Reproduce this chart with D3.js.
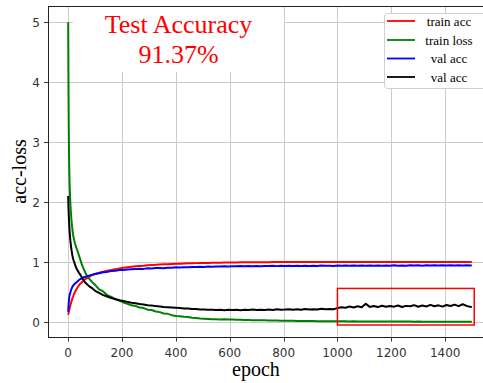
<!DOCTYPE html>
<html>
<head>
<meta charset="utf-8">
<script src="https://cdn.jsdelivr.net/npm/d3@7/dist/d3.min.js"></script>
<style>
  html, body { margin: 0; padding: 0; background: #fff; }
  svg { display: block; }
</style>
</head>
<body>
<svg id="chart" width="483" height="383"></svg>
<script>
// ---------------- DATA ----------------
const epochs = [
  0,1,2,3,4,5,6,7,8,10, 12,14,16,18,20,23,26,30,35,40, 45,50,55,60,65,70,80,90,
  100,115,130,145,160,175,190,205,220,235,
  250,265,280,295,310,325,340,355,370,385,
  400,415,430,445,460,475,490,505,520,535,
  550,565,580,595,610,625,640,655,670,685,
  700,715,730,745,760,775,790,805,820,835,
  850,865,880,895,910,925,940,955,970,985,
  1000,1015,1030,1045,1060,1075,1090,1105,1120,1135,
  1150,1165,1180,1195,1210,1225,1240,1255,1270,1285,
  1300,1315,1330,1345,1360,1375,1390,1405,1420,1435,
  1450,1465,1480,1495,1499
];

const trainAcc = [
  0.12,0.14,0.16,0.18,0.2,0.22,0.24,0.26,0.28,0.31, 0.34,0.37,0.4,0.42,0.45,0.48,0.51,0.54,0.58,0.61, 0.64,0.66,0.68,0.70,0.72,0.73,0.76,0.785,
  0.80,0.822,0.838,0.857,0.866,0.882,0.893,0.906,0.913,0.921,
  0.929,0.936,0.94,0.946,0.951,0.954,0.959,0.962,0.965,0.968,
  0.971,0.973,0.976,0.978,0.979,0.982,0.983,0.985,0.986,0.988,
  0.989,0.99,0.992,0.992,0.994,0.994,0.995,0.996,0.996,0.997,
  0.997,0.998,0.998,0.998,0.999,0.999,0.999,1.0,1.0,1.0,
  1.0,0.999,1.001,1.0,1.0,0.999,1.001,1.0,1.0,1.001,
  0.999,1.0,1.001,1.0,0.999,1.0,1.001,1.0,1.0,0.999,
  1.001,1.0,1.0,0.999,1.001,1.0,1.0,1.001,0.999,1.0,
  1.0,1.001,0.999,1.0,1.0,1.001,1.0,0.999,1.0,1.001,
  1.0,0.999,1.0,1.001,1.0
];

const trainLoss = [
  5.0,4.0,3.3,2.85,2.55,2.35,2.2,2.08,1.98,1.83, 1.71,1.61,1.53,1.46,1.41,1.35,1.3,1.24,1.18,1.11, 1.04,0.97,0.91,0.86,0.81,0.77,0.71,0.66,
  0.62,0.545,0.51,0.448,0.42,0.378,0.356,0.326,0.305,0.278,
  0.268,0.242,0.232,0.206,0.2,0.176,0.165,0.142,0.136,0.114,
  0.102,0.097,0.086,0.082,0.072,0.065,0.058,0.054,0.051,0.047,
  0.046,0.043,0.044,0.04,0.041,0.037,0.036,0.034,0.033,0.031,
  0.03,0.028,0.028,0.026,0.025,0.024,0.023,0.021,0.021,0.019,
  0.018,0.018,0.016,0.016,0.015,0.014,0.014,0.013,0.013,0.012,
  0.012,0.011,0.011,0.01,0.011,0.01,0.009,0.01,0.009,0.009,
  0.008,0.009,0.008,0.008,0.007,0.008,0.007,0.007,0.007,0.006,
  0.007,0.006,0.006,0.006,0.005,0.006,0.005,0.005,0.005,0.005,
  0.005,0.004,0.005,0.004,0.005
];

const valAcc = [
  0.17,0.25,0.32,0.37,0.41,0.44,0.46,0.475,0.49,0.52, 0.55,0.57,0.59,0.605,0.615,0.63,0.645,0.66,0.68,0.70, 0.715,0.725,0.74,0.75,0.755,0.765,0.775,0.79,
  0.80,0.812,0.83,0.836,0.85,0.853,0.866,0.868,0.874,0.879,
  0.882,0.889,0.886,0.895,0.893,0.899,0.902,0.898,0.906,0.905,
  0.912,0.908,0.915,0.913,0.918,0.916,0.922,0.919,0.925,0.921,
  0.927,0.924,0.929,0.926,0.931,0.928,0.932,0.929,0.934,0.93,
  0.935,0.931,0.936,0.933,0.937,0.932,0.938,0.934,0.939,0.935,
  0.938,0.934,0.94,0.936,0.939,0.935,0.941,0.937,0.94,0.936,
  0.942,0.937,0.941,0.938,0.943,0.937,0.942,0.939,0.944,0.938,
  0.943,0.939,0.944,0.94,0.945,0.939,0.944,0.94,0.946,0.941,
  0.945,0.94,0.946,0.942,0.947,0.941,0.946,0.942,0.948,0.942,
  0.947,0.943,0.948,0.944,0.946
];

const valLoss = [
  2.1,1.92,1.8,1.7,1.61,1.53,1.47,1.41,1.36,1.28, 1.21,1.15,1.1,1.06,1.03,0.99,0.95,0.9,0.86,0.82, 0.79,0.75,0.71,0.68,0.65,0.63,0.59,0.56,
  0.52,0.485,0.448,0.425,0.4,0.383,0.362,0.349,0.336,0.322,
  0.313,0.301,0.292,0.281,0.274,0.265,0.258,0.252,0.248,0.242,
  0.237,0.233,0.226,0.224,0.218,0.216,0.209,0.208,0.204,0.206,
  0.199,0.204,0.197,0.203,0.199,0.205,0.198,0.203,0.2,0.207,
  0.199,0.206,0.202,0.209,0.2,0.211,0.203,0.207,0.214,0.204,
  0.212,0.205,0.218,0.209,0.214,0.207,0.22,0.211,0.218,0.214,
  0.232,0.245,0.238,0.258,0.241,0.262,0.247,0.305,0.252,0.266,
  0.249,0.271,0.253,0.268,0.256,0.275,0.251,0.269,0.262,0.281,
  0.254,0.274,0.259,0.285,0.262,0.278,0.257,0.283,0.266,0.29,
  0.264,0.296,0.268,0.252,0.249
];

const seriesNames = ["train acc", "train loss", "val acc", "val acc"];
const seriesColors = ["#ff0000", "#008000", "#0000ff", "#000000"];
const seriesValues = [trainAcc, trainLoss, valAcc, valLoss];

const xTicks = [0, 200, 400, 600, 800, 1000, 1200, 1400];
const yTicks = [0, 1, 2, 3, 4, 5];
const xDomain = [-75, 1574];
const yDomain = [-0.25, 5.27];

const titleLines = ["Test Accuracy", "91.37%"];
const xLabel = "epoch";
const yLabel = "acc-loss";
// highlighted region [epochStart, epochEnd, valueLow, valueHigh]
const highlightBox = [1000, 1508, -0.05, 0.56];

// ---------------- DRAWING ----------------
const svg = d3.select("#chart");
const L = 48, R = 492, T = 6, B = 337;

const x = d3.scaleLinear().domain(xDomain).range([L, R]);
const y = d3.scaleLinear().domain(yDomain).range([B, T]);
const px = v => Math.round(v) + 0.5;

const gridColor = "#cbcbcb";
const g = svg.append("g");

// grid
g.selectAll(".gx").data(xTicks).enter().append("line")
  .attr("x1", d => px(x(d))).attr("x2", d => px(x(d)))
  .attr("y1", T).attr("y2", B)
  .attr("stroke", gridColor).attr("stroke-width", 1);
g.selectAll(".gy").data(yTicks).enter().append("line")
  .attr("x1", L).attr("x2", R)
  .attr("y1", d => px(y(d))).attr("y2", d => px(y(d)))
  .attr("stroke", gridColor).attr("stroke-width", 1);

// title background box (covers grid)
g.append("rect").attr("x", 73).attr("y", T + 1).attr("width", 211).attr("height", 65)
  .attr("fill", "#fff");

// lines
const line = d3.line().x((d, i) => x(epochs[i])).y(d => y(d));
seriesValues.forEach((vals, k) => {
  g.append("path").datum(vals)
    .attr("d", line)
    .attr("fill", "none")
    .attr("stroke", seriesColors[k])
    .attr("stroke-width", 2)
    .attr("stroke-linejoin", "round");
});

// highlight rectangle
g.append("rect")
  .attr("x", x(highlightBox[0])).attr("y", y(highlightBox[3]))
  .attr("width", x(highlightBox[1]) - x(highlightBox[0]))
  .attr("height", y(highlightBox[2]) - y(highlightBox[3]))
  .attr("fill", "none").attr("stroke", "#ff0000").attr("stroke-width", 1.5);

// spines
const spine = "#222";
g.append("line").attr("x1", L + 0.5).attr("x2", L + 0.5).attr("y1", T).attr("y2", B + 0.5).attr("stroke", spine);
g.append("line").attr("x1", L).attr("x2", R).attr("y1", B + 0.5).attr("y2", B + 0.5).attr("stroke", spine);
g.append("line").attr("x1", L).attr("x2", R).attr("y1", T + 0.5).attr("y2", T + 0.5).attr("stroke", spine);

// ticks + labels
const tickFont = "DejaVu Sans, sans-serif";
g.selectAll(".tx").data(xTicks).enter().append("line")
  .attr("x1", d => px(x(d))).attr("x2", d => px(x(d)))
  .attr("y1", B).attr("y2", B + 4.5).attr("stroke", "#333");
g.selectAll(".tlx").data(xTicks).enter().append("text")
  .attr("x", d => x(d)).attr("y", 357)
  .attr("text-anchor", "middle")
  .attr("font-family", tickFont).attr("font-size", 12).attr("fill", "#333")
  .text(d => d);
g.selectAll(".ty").data(yTicks).enter().append("line")
  .attr("x1", L - 4).attr("x2", L)
  .attr("y1", d => px(y(d))).attr("y2", d => px(y(d))).attr("stroke", "#333");
g.selectAll(".tly").data(yTicks).enter().append("text")
  .attr("x", 40).attr("y", d => y(d) + 4.5)
  .attr("text-anchor", "end")
  .attr("font-family", tickFont).attr("font-size", 12).attr("fill", "#333")
  .text(d => d);

// axis labels
const serif = "Liberation Serif, Times New Roman, serif";
g.append("text").attr("x", 256).attr("y", 376)
  .attr("text-anchor", "middle").attr("font-family", serif).attr("font-size", 20)
  .text(xLabel);
g.append("text").attr("transform", "translate(26,171.5) rotate(-90)")
  .attr("text-anchor", "middle").attr("font-family", serif).attr("font-size", 20)
  .text(yLabel);

// title
titleLines.forEach((t, i) => {
  g.append("text").attr("x", 178.5).attr("y", 33 + i * 30)
    .attr("text-anchor", "middle").attr("font-family", serif).attr("font-size", 26)
    .attr("fill", "#ff0000").text(t);
});

// legend
const lg = g.append("g");
lg.append("rect").attr("x", 384.5).attr("y", 13.5).attr("width", 110).attr("height", 75)
  .attr("rx", 3).attr("fill", "#fff").attr("stroke", "#d0d0d0");
const rowY = [21, 40, 58.5, 77];
seriesNames.forEach((n, k) => {
  lg.append("line").attr("x1", 387).attr("x2", 415)
    .attr("y1", rowY[k]).attr("y2", rowY[k])
    .attr("stroke", seriesColors[k]).attr("stroke-width", 1.8);
  lg.append("text").attr("x", 449).attr("y", rowY[k] + 4.5)
    .attr("text-anchor", "middle").attr("font-family", serif).attr("font-size", 13)
    .attr("fill", "#000").text(n);
});
</script>
</body>
</html>
